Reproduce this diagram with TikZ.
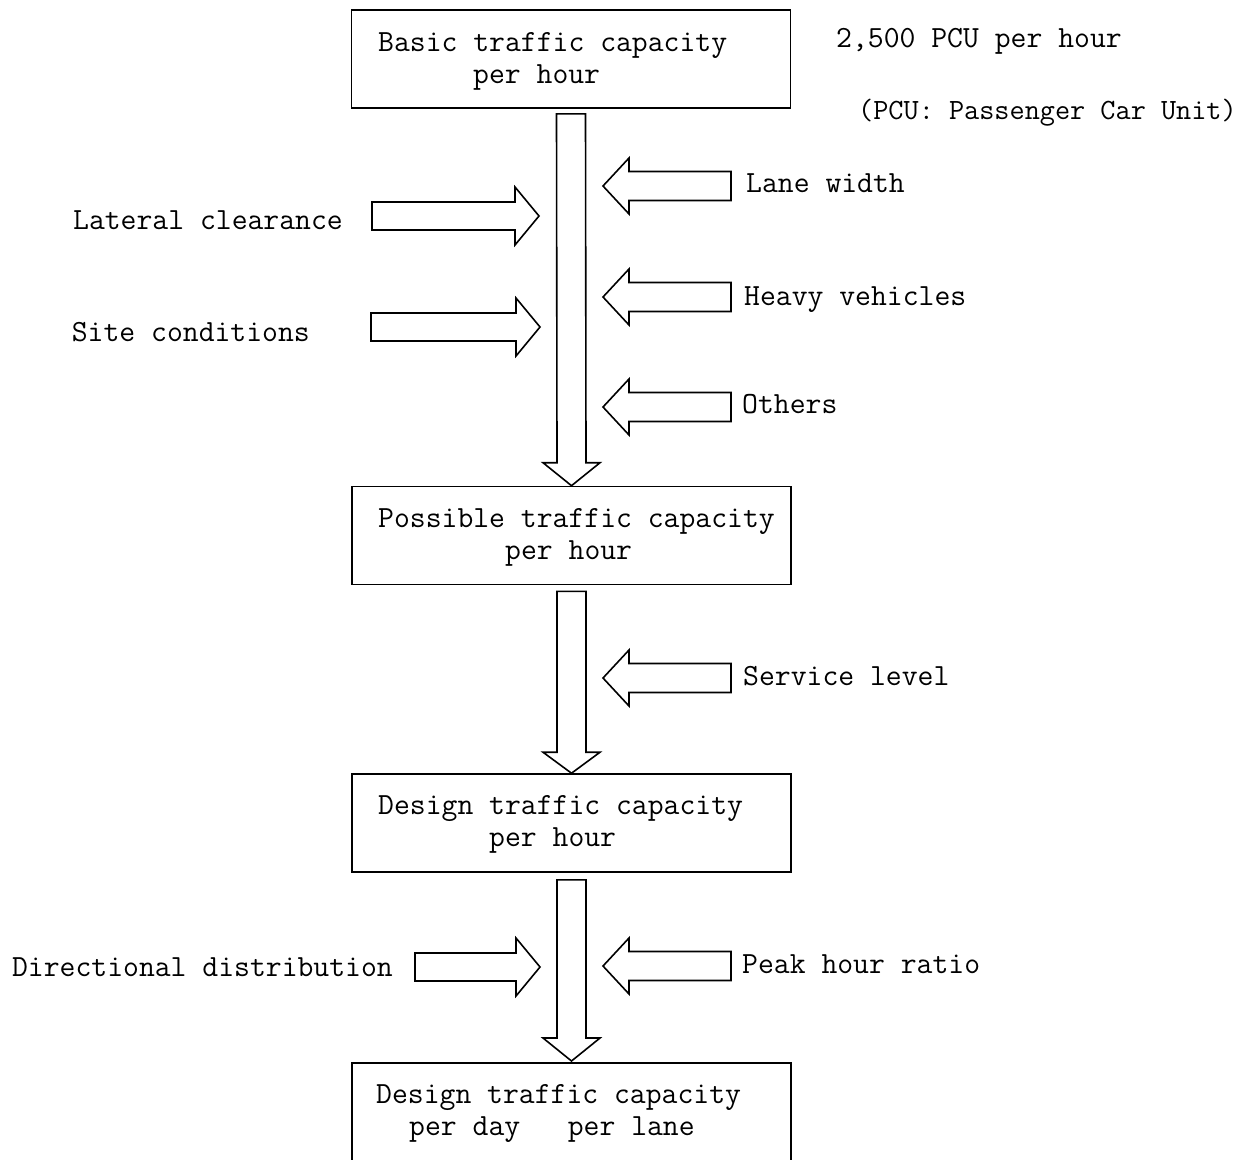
\documentclass[tikz,border=0pt]{standalone}
\usepackage{fontspec}
\usetikzlibrary{calc}
\begin{document}
\begin{tikzpicture}[x=1pt,y=-1pt,
  font=\ttfamily\fontsize{30.8}{32}\selectfont,
  box/.style={draw,line width=1.6pt,minimum width=439pt,minimum height=98pt,inner sep=0pt},
  blk/.style={draw,line width=1.6pt,line join=miter},
  lbl/.style={anchor=base west,inner sep=0pt},
  lblr/.style={anchor=base east,inner sep=0pt},
  pics/rarrow/.style={code={\draw[blk] (0,0) -- (-24,-29) -- (-24,-14) -- (-#1,-14) -- (-#1,14) -- (-24,14) -- (-24,29) -- cycle;}},
  pics/larrow/.style={code={\draw[blk] (0,0) -- (26,-28) -- (26,-14.5) -- (#1,-14.5) -- (#1,14.5) -- (26,14.5) -- (26,28) -- cycle;}}
]
\useasboundingbox (0,0) rectangle (1246,1159);
\clip (0,0) rectangle (1246,1159);

% boxes
\node[box] (b1) at (571,59) {};
\node[box] (b2) at (571.5,535.5) {};
\node[box] (b3) at (571.5,823) {};
\node[box,minimum height=130pt,anchor=north] (b4) at (571.5,1062) {};

% box texts
\node[lbl] (t1a) at (378,51) {Basic traffic capacity};
\node[lbl] (t1b) at (473,83) {per hour};
\node[lbl] (t2a) at (378,527) {Possible traffic capacity};
\node[lbl] (t2b) at (505,559) {per hour};
\node[lbl] (t3a) at (378,814) {Design traffic capacity};
\node[lbl] (t3b) at (489,846) {per hour};
\node[lbl] (t4a) at (376,1103) {Design traffic capacity};
\node[lbl] (t4b) at (409,1135) {per day\ \ \ per lane};

% side labels
\node[lbl] (pcu) at (836,47) {2,500 PCU per hour};
\node[lbl,font=\ttfamily\fontsize{29.4}{32}\selectfont] (pcu2) at (858,119) {(PCU: Passenger Car Unit)};
\node[lbl] (lane) at (746,192) {Lane width};
\node[lbl] (heavy) at (744,305) {Heavy vehicles};
\node[lbl] (others) at (742,413) {Others};
\node[lbl] (service) at (743,685) {Service level};
\node[lbl] (peak) at (742,973) {Peak hour ratio};
\node[lblr] (lateral) at (343,229) {Lateral clearance};
\node[lblr] (site) at (310,341) {Site conditions};
\node[lblr] (dir) at (393,976) {Directional distribution};

% main block arrows
\draw[blk] ($(b1.south)+(-14.5,5)$) -- ($(b2.north)+(-14.5,-23)$) -- ++(-14,0)
  -- (b2.north) -- ++(28.5,-23) -- ++(-14,0) -- ($(b1.south)+(14.5,5)$) -- cycle;
\draw[blk] ($(b2.south)+(-14.5,6)$) -- ($(b3.north)+(-14.5,-21)$) -- ++(-14,0)
  -- (b3.north) -- ++(28.5,-21) -- ++(-14,0) -- ($(b2.south)+(14.5,6)$) -- cycle;
\draw[blk] ($(b3.south)+(-14.5,7)$) -- ($(b4.north)+(-14.5,-24)$) -- ++(-14,0)
  -- ($(b4.north)+(0,-1)$) -- ++(28.5,-23) -- ++(-14,0) -- ($(b3.south)+(14.5,7)$) -- cycle;

% side block arrows
\pic at (603,186) {larrow=128};
\pic at (603,297) {larrow=128};
\pic at (603,407) {larrow=128};
\pic at (603,678) {larrow=128};
\pic at (603,966) {larrow=128};
\pic at (539,216) {rarrow=167};
\pic at (540,327) {rarrow=169};
\pic at (540,967) {rarrow=125};
\end{tikzpicture}
\end{document}
